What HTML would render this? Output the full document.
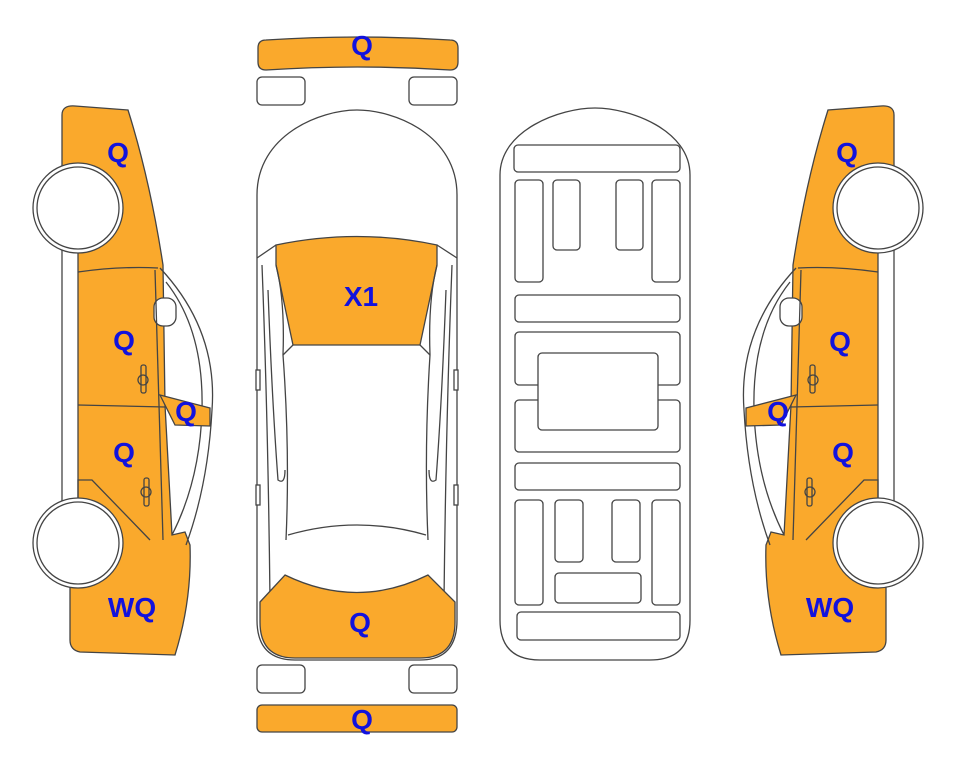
<!DOCTYPE html>
<html><head><meta charset="utf-8"><style>
html,body{margin:0;padding:0;background:#fff;}
svg{display:block}
text{font-family:"Liberation Sans",Arial,sans-serif;font-weight:bold;font-size:28px;fill:#1212DD;text-anchor:middle}
</style></head><body>
<svg width="963" height="768" viewBox="0 0 963 768" xmlns="http://www.w3.org/2000/svg">
<defs>
<g id="side" stroke="#444" stroke-width="1.3">
  <path d="M62,115 Q62,105 75,106 L128,110 Q150,180 163,265 L165,405 L172,535 L185,532 L190,545 Q192,600 175,655 L80,652 Q70,650 70,640 L70,250 L62,250 Z" fill="#FAA92C"/>
  <path d="M160,268 Q218,330 212,410 Q208,485 186,545" fill="none"/>
  <path d="M166,282 Q204,330 202,410 Q200,480 172,535" fill="none"/>
  <rect x="154" y="298" width="22" height="28" rx="9" fill="#fff"/>
  <path d="M160,395 L210,408 L210,426 L175,425 Z" fill="#FAA92C"/>
  <rect x="62" y="250" width="16" height="255" fill="#fff"/>
  <path d="M78,505 L78,480 L92,480 L150,540" fill="none"/>
  <path d="M78,272 Q120,266 158,268" fill="none"/>
  <path d="M78,405 L165,407" fill="none"/>
  <path d="M155,270 L163,540" fill="none"/>
  <rect x="141" y="365" width="5" height="28" rx="2" fill="none"/>
  <circle cx="143" cy="380" r="5" fill="none"/>
  <rect x="144" y="478" width="5" height="28" rx="2" fill="none"/>
  <circle cx="146" cy="492" r="5" fill="none"/>
  <circle cx="78" cy="208" r="45" fill="#fff"/>
  <circle cx="78" cy="208" r="41" fill="#fff"/>
  <circle cx="78" cy="543" r="45" fill="#fff"/>
  <circle cx="78" cy="543" r="41" fill="#fff"/>
</g>
</defs>
<use href="#side"/>
<use href="#side" transform="translate(956,0) scale(-1,1)"/>

<g stroke="#444" stroke-width="1.3">
  <path d="M258,48 Q258,40 266,40 Q357,34 450,40 Q458,40 458,48 L458,62 Q458,70 450,70 Q357,64 266,70 Q258,70 258,62 Z" fill="#FAA92C"/>
  <rect x="257" y="77" width="48" height="28" rx="5" fill="#fff"/>
  <rect x="409" y="77" width="48" height="28" rx="5" fill="#fff"/>
  <path d="M257,620 L257,195 C257,135 320,110 357,110 C395,110 457,135 457,195 L457,620 Q457,660 420,660 L295,660 Q257,660 257,620 Z" fill="#fff"/>
  <path d="M276,245 Q357,228 437,245 L437,265 L420,345 L293,345 L276,265 Z" fill="#FAA92C"/>
  <path d="M257,258 L276,245 M457,258 L437,245 M293,345 L283,355 M420,345 L430,355" fill="none"/>
  <path d="M262,265 Q268,420 270,600 M452,265 Q446,420 444,600" fill="none"/>
  <path d="M276,265 Q285,300 283,355 Q290,450 286,540 M437,265 Q428,300 430,355 Q424,450 428,540" fill="none"/>
  <path d="M268,290 Q272,400 278,480 Q285,485 285,470 M446,290 Q442,400 436,480 Q429,485 429,470" fill="none"/>
  <path d="M288,535 Q357,515 426,535" fill="none"/>
  <path d="M260,602 L285,575 Q357,610 428,575 L455,602 L455,622 Q455,658 420,658 L295,658 Q260,658 260,622 Z" fill="#FAA92C"/>
  <rect x="257" y="665" width="48" height="28" rx="5" fill="#fff"/>
  <rect x="409" y="665" width="48" height="28" rx="5" fill="#fff"/>
  <rect x="257" y="705" width="200" height="27" rx="5" fill="#FAA92C"/>
  <rect x="256" y="370" width="4" height="20" fill="#fff"/>
  <rect x="454" y="370" width="4" height="20" fill="#fff"/>
  <rect x="256" y="485" width="4" height="20" fill="#fff"/>
  <rect x="454" y="485" width="4" height="20" fill="#fff"/>

  <path d="M500,620 L500,175 C500,130 560,108 595,108 C630,108 690,130 690,175 L690,620 Q690,660 650,660 L540,660 Q500,660 500,620 Z" fill="#fff"/>
  <g fill="#fff">
  <rect x="514" y="145" width="166" height="27" rx="4"/>
  <rect x="515" y="180" width="28" height="102" rx="4"/>
  <rect x="553" y="180" width="27" height="70" rx="4"/>
  <rect x="616" y="180" width="27" height="70" rx="4"/>
  <rect x="652" y="180" width="28" height="102" rx="4"/>
  <rect x="515" y="295" width="165" height="27" rx="4"/>
  <rect x="515" y="332" width="165" height="53" rx="4"/>
  <rect x="515" y="400" width="165" height="52" rx="4"/>
  <rect x="538" y="353" width="120" height="77" rx="4"/>
  <rect x="515" y="463" width="165" height="27" rx="4"/>
  <rect x="515" y="500" width="28" height="105" rx="4"/>
  <rect x="555" y="500" width="28" height="62" rx="4"/>
  <rect x="612" y="500" width="28" height="62" rx="4"/>
  <rect x="652" y="500" width="28" height="105" rx="4"/>
  <rect x="555" y="573" width="86" height="30" rx="4"/>
  <rect x="517" y="612" width="163" height="28" rx="4"/>
  </g>
</g>

<text x="362" y="55">Q</text>
<text x="361" y="306">X1</text>
<text x="360" y="632">Q</text>
<text x="362" y="729">Q</text>
<text x="118" y="162">Q</text>
<text x="124" y="350">Q</text>
<text x="186" y="421">Q</text>
<text x="124" y="462">Q</text>
<text x="132" y="617">WQ</text>
<text x="847" y="162">Q</text>
<text x="840" y="351">Q</text>
<text x="778" y="421">Q</text>
<text x="843" y="462">Q</text>
<text x="830" y="617">WQ</text>
</svg>
</body></html>
